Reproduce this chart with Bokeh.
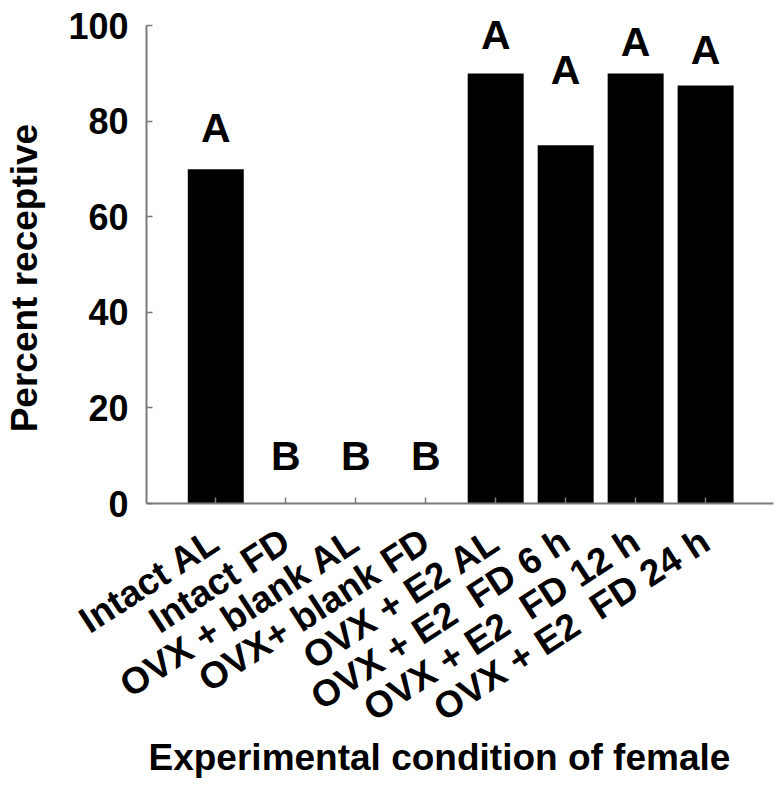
import math
from bokeh.plotting import figure
from bokeh.models import Range1d, FixedTicker
from bokeh.embed import file_html
from bokeh.resources import INLINE
from bokeh.core.properties import value

categories = ["Intact AL", "Intact FD", "OVX + blank AL", "OVX+ blank FD",
              "OVX + E2 AL", "OVX + E2\u00a0 FD 6 h", "OVX + E2\u00a0 FD 12 h", "OVX + E2\u00a0 FD 24 h"]
percent = [70, 0, 0, 0, 90, 75, 90, 87.5]
letters = ["A", "B", "B", "B", "A", "A", "A", "A"]
letter_y = [75.3, 6.5, 6.5, 6.5, 94.8, 87.4, 93.3, 91.6]
y_ticks = [0, 20, 40, 60, 80, 100]
y_title = "Percent receptive"
x_title = "Experimental condition of female"

xs = list(range(len(categories)))
FONT = "Liberation Sans"
NBSP = "\u00a0"

p = figure(output_backend="svg", toolbar_location=None,
           frame_width=627, frame_height=492,
           min_border_left=146, min_border_top=11, min_border_right=8, min_border_bottom=10,
           x_range=Range1d(-0.99, 7.97), y_range=Range1d(0, 103),
           background_fill_color="white", border_fill_color="white")
p.outline_line_color = None
p.grid.visible = False

p.vbar(x=xs, top=percent, width=0.8, bottom=0, fill_color="black", line_color=None)
p.text(x=xs, y=letter_y, text=letters, text_font=value(FONT), text_font_style="bold",
       text_font_size="41px", text_align="center", text_baseline="alphabetic",
       y_offset=-16, text_color="black")

for ax in (p.xaxis[0], p.yaxis[0]):
    ax.axis_line_color = "#7a7a7a"
    ax.axis_line_width = 2
    ax.major_tick_line_color = "#7a7a7a"
    ax.major_tick_line_width = 1.5
    ax.major_tick_in = 6
    ax.major_tick_out = 0
    ax.minor_tick_line_color = None
    ax.major_label_text_font = FONT
    ax.major_label_text_font_style = "bold"
    ax.major_label_text_color = "black"
    ax.axis_label_text_font = FONT
    ax.axis_label_text_font_style = "bold"
    ax.axis_label_text_font_size = "37px"
    ax.axis_label_text_color = "black"

p.yaxis.ticker = FixedTicker(ticks=y_ticks)
p.yaxis.bounds = (0, 100)
p.yaxis.major_label_text_font_size = "36px"
p.yaxis.major_label_standoff = 18
# trailing no-break spaces shift the centred titles towards where the reference has them
p.yaxis.axis_label = y_title + NBSP * 4
p.yaxis.axis_label_standoff = 20

p.xaxis.ticker = FixedTicker(ticks=xs)
p.xaxis.major_label_overrides = {i: c for i, c in enumerate(categories)}
p.xaxis.major_label_orientation = math.radians(33)
p.xaxis.major_label_text_font_size = "37px"
p.xaxis.major_label_standoff = 34
p.xaxis.axis_label = x_title + NBSP * 4
p.xaxis.axis_label_standoff = -12

open("out.html", "w").write(file_html(p, INLINE))
